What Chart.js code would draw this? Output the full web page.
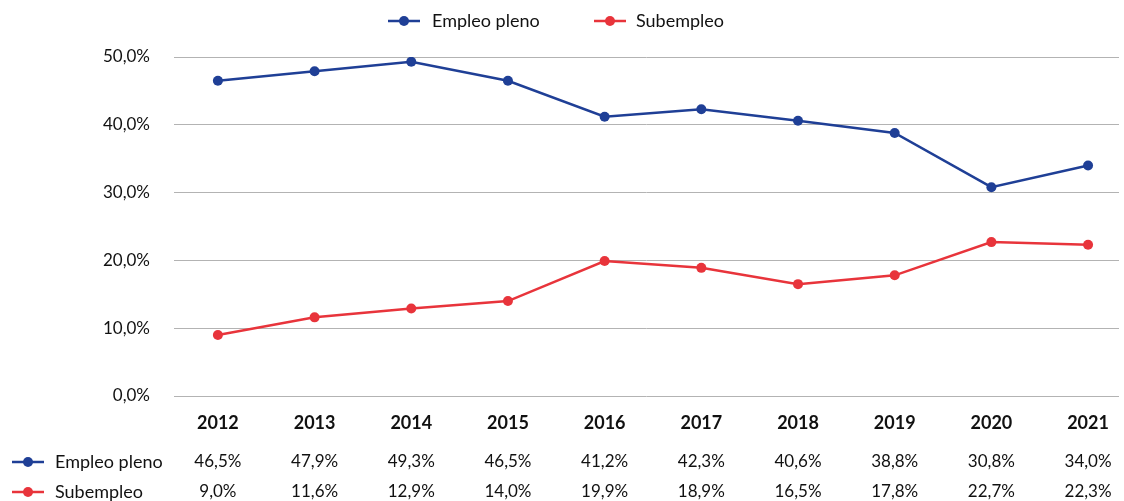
<!DOCTYPE html>
<html>
<head>
<meta charset="utf-8">
<script src="https://cdn.jsdelivr.net/npm/chart.js"></script>
<style>
  html, body { margin: 0; padding: 0; background: #fff; }
  #wrap { width: 1124px; height: 501px; }
</style>
</head>
<body>
<div id="wrap"><canvas id="empleo" width="1124" height="501"></canvas></div>
<script>
const years = ['2012', '2013', '2014', '2015', '2016', '2017', '2018', '2019', '2020', '2021'];
const empleoPleno = [46.5, 47.9, 49.3, 46.5, 41.2, 42.3, 40.6, 38.8, 30.8, 34.0];
const subempleo = [9.0, 11.6, 12.9, 14.0, 19.9, 18.9, 16.5, 17.8, 22.7, 22.3];
const yTicks = [0, 10, 20, 30, 40, 50];

const BLUE = '#1f3f96';
const RED = '#e8343b';
const FONT = 'Lato, "DejaVu Sans", sans-serif';

const series = [
    { label: 'Empleo pleno', values: empleoPleno, color: BLUE },
    { label: 'Subempleo', values: subempleo, color: RED }
];

function pct(v) {
    return v.toFixed(1).replace('.', ',') + '%';
}

function legendMark(ctx, x, y, color) {
    ctx.strokeStyle = color;
    ctx.lineWidth = 2.5;
    ctx.beginPath();
    ctx.moveTo(x, y);
    ctx.lineTo(x + 32, y);
    ctx.stroke();
    ctx.fillStyle = color;
    ctx.beginPath();
    ctx.arc(x + 16, y, 5, 0, Math.PI * 2);
    ctx.fill();
}

// legend on top + data table under the plot
const tablePlugin = {
    id: 'tablePlugin',
    afterDraw(chart) {
        const ctx = chart.ctx;
        const xs = chart.scales.x;
        ctx.save();
        ctx.textBaseline = 'middle';

        // top legend
        ctx.font = '18px ' + FONT;
        ctx.textAlign = 'left';
        legendMark(ctx, 388, 21, BLUE);
        ctx.fillStyle = '#111';
        ctx.fillText('Empleo pleno', 432, 21);
        legendMark(ctx, 594, 21, RED);
        ctx.fillStyle = '#111';
        ctx.fillText('Subempleo', 636, 21);

        // year header
        ctx.font = 'bold 18px ' + FONT;
        ctx.textAlign = 'center';
        ctx.fillStyle = '#111';
        years.forEach((yr, i) => ctx.fillText(yr, xs.getPixelForValue(i), 423));

        // value rows
        const rowY = [462, 492];
        series.forEach((s, r) => {
            legendMark(ctx, 12, rowY[r], s.color);
            ctx.font = '18px ' + FONT;
            ctx.fillStyle = '#111';
            ctx.textAlign = 'left';
            ctx.fillText(s.label, 55, rowY[r]);
            ctx.font = '17px ' + FONT;
            ctx.textAlign = 'center';
            s.values.forEach((v, i) => ctx.fillText(pct(v), xs.getPixelForValue(i), rowY[r]));
        });
        ctx.restore();
    }
};

new Chart(document.getElementById('empleo'), {
    type: 'line',
    data: {
        datasets: series.map(s => ({
            label: s.label,
            data: s.values.map((v, i) => ({ x: i, y: v })),
            borderColor: s.color,
            backgroundColor: s.color,
            borderWidth: 2.5,
            pointRadius: 5,
            pointBorderWidth: 0,
            tension: 0,
            fill: false
        }))
    },
    options: {
        responsive: false,
        animation: false,
        layout: { padding: { top: 57, bottom: 105, left: 0, right: 2 } },
        plugins: {
            legend: { display: false },
            tooltip: { enabled: false }
        },
        scales: {
            x: {
                type: 'linear',
                min: -0.454,
                max: 9.32,
                display: false
            },
            y: {
                min: 0,
                max: 50,
                afterBuildTicks(scale) {
                    scale.ticks = yTicks.map(v => ({ value: v }));
                },
                afterFit(scale) {
                    scale.width = 174;
                },
                border: { display: false },
                grid: { color: '#b3b3b3', lineWidth: 1, drawTicks: false },
                ticks: {
                    padding: 24,
                    color: '#111',
                    font: { family: FONT, size: 17 },
                    callback: v => pct(v)
                }
            }
        }
    },
    plugins: [tablePlugin]
});
</script>
</body>
</html>
